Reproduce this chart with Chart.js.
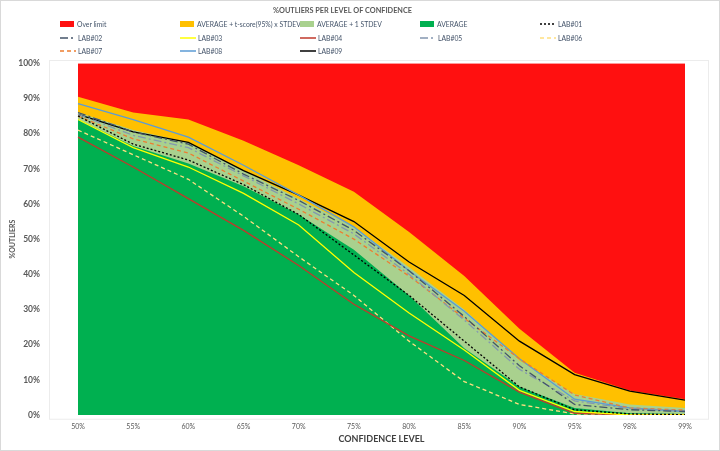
<!DOCTYPE html>
<html>
<head>
<meta charset="utf-8">
<script src="https://cdn.jsdelivr.net/npm/chart.js@4.4.0/dist/chart.umd.min.js"></script>
<style>
  html, body { margin: 0; padding: 0; background: #fff; }
  #wrap { position: relative; width: 720px; height: 451px; overflow: hidden; }
  #legend { position: absolute; left: 0; top: 0; font: 6.8px Lato, sans-serif; color: #44546a; }
  .item { position: absolute; display: flex; align-items: center; white-space: nowrap; height: 10px; }
  .item svg { margin-right: 2px; }
</style>
</head>
<body>
<div id="wrap">
  <canvas id="graph" width="720" height="451"></canvas>
  <div id="legend"></div>
</div>
<script>
const levels = ['50%', '55%', '60%', '65%', '70%', '75%', '80%', '85%', '90%', '95%', '98%', '99%'];

// bands (top edge of each coloured area, % outliers)
const overLimit = [100, 100, 100, 100, 100, 100, 100, 100, 100, 100, 100, 100];
const avgTscore = [90.5, 86, 84, 78, 71, 63.5, 52, 39.5, 24.5, 12, 7, 4.5];
const avgStdev  = [86, 81, 77.5, 69.5, 61.5, 53.5, 42, 30, 15.5, 6, 3, 2];
const average   = [84, 76.5, 71.5, 65, 57, 47, 34, 19, 8, 2, 0.5, 0.3];

// labs
const lab01 = [85, 77, 72.5, 65.5, 57, 45.5, 34, 21, 8, 1.5, 0.3, 0.1];
const lab02 = [86, 80.5, 77, 68.5, 61, 52.5, 41, 28, 14, 3, 1.5, 1];
const lab03 = [84, 76, 70.5, 63, 54, 40.5, 29, 18.5, 7, 1, 0, 0];
const lab04 = [79, 70.5, 61.5, 52.5, 42.5, 31.5, 22.5, 15.5, 6.5, 0.5, 0, 0];
const lab05 = [85.5, 79.5, 76, 68, 60, 51.5, 40, 27, 13, 4, 1.8, 1.2];
const lab06 = [81, 74, 67, 56.5, 45, 34, 21, 9.5, 3, 0.3, 0, 0];
const lab07 = [85, 78.5, 74.5, 66.5, 58.5, 50, 39.5, 27.5, 16, 5.7, 2, 1.4];
const lab08 = [88.5, 84, 79, 71, 62.5, 53.5, 41, 29.5, 16, 4.5, 2, 1];
const lab09 = [85.5, 80.5, 77.5, 69.5, 62.5, 55, 43.5, 34, 21, 11.5, 6.8, 4.2];

function area(label, data, color, order) {
    return {
        label: label,
        data: data,
        backgroundColor: color,
        borderColor: color,
        borderWidth: 0,
        fill: 'origin',
        pointRadius: 0,
        tension: 0,
        order: order,
        isArea: true
    };
}

function lab(label, data, color, dash) {
    return {
        label: label,
        data: data,
        borderColor: color,
        backgroundColor: color,
        borderWidth: 1.3,
        borderDash: dash,
        fill: false,
        pointRadius: 0,
        tension: 0,
        order: 0
    };
}

const datasets = [
    area('Over limit', overLimit, '#ff1010', 4),
    area('AVERAGE + t-score(95%) x STDEV', avgTscore, '#ffc000', 3),
    area('AVERAGE + 1 STDEV', avgStdev, '#a9d18e', 2),
    area('AVERAGE', average, '#00b050', 1),
    lab('LAB#01', lab01, '#000000', [2, 2]),
    lab('LAB#02', lab02, '#44546a', [8, 3, 2, 3]),
    lab('LAB#03', lab03, '#ffff00', []),
    lab('LAB#04', lab04, '#c0392b', []),
    lab('LAB#05', lab05, '#8497b0', [8, 3, 2, 3]),
    lab('LAB#06', lab06, '#ffdf80', [4, 3]),
    lab('LAB#07', lab07, '#ed7d31', [4, 3]),
    lab('LAB#08', lab08, '#5b9bd5', []),
    lab('LAB#09', lab09, '#000000', [])
];

// light frames like the spreadsheet chart
const frame = {
    id: 'frame',
    beforeDraw(chart) {
        const ctx = chart.ctx;
        const a = chart.chartArea;
        ctx.save();
        ctx.lineWidth = 1;
        ctx.strokeStyle = '#d9d9d9';
        ctx.strokeRect(0.5, 0.5, chart.width - 1, chart.height - 1);
        ctx.strokeStyle = '#ececec';
        ctx.strokeRect(Math.round(a.left) - 28.5, Math.round(a.top) - 2.5, a.right - a.left + 52, a.bottom - a.top + 7);
        ctx.restore();
    }
};

function buildLegend(chart) {
    const box = document.getElementById('legend');
    box.innerHTML = '';
    chart.data.datasets.forEach((ds, i) => {
        const col = i % 5;
        const row = Math.floor(i / 5);
        const item = document.createElement('div');
        item.className = 'item';
        item.style.left = (60 + col * 120) + 'px';
        item.style.top = (19 + row * 13.5) + 'px';
        let mark;
        if (ds.isArea) {
            mark = '<svg width="15" height="8"><rect x="0" y="1" width="14" height="6" fill="' + ds.backgroundColor + '"/></svg>';
        } else {
            const dash = ds.borderDash.length ? ' stroke-dasharray="' + ds.borderDash.join(' ') + '"' : '';
            mark = '<svg width="16" height="8"><line x1="0" y1="4" x2="16" y2="4" stroke="' + ds.borderColor + '" stroke-width="1.5"' + dash + '/></svg>';
        }
        item.innerHTML = mark + '<span>' + ds.label + '</span>';
        box.appendChild(item);
    });
}

const tickColor = '#595959';

const chart = new Chart(document.getElementById('graph'), {
    type: 'line',
    data: { labels: levels, datasets: datasets },
    options: {
        responsive: false,
        animation: false,
        layout: { padding: { top: 0, right: 35, bottom: 0, left: 0 } },
        plugins: {
            legend: { display: false },
            tooltip: { enabled: false },
            title: {
                display: true,
                text: '%OUTLIERS PER LEVEL OF CONFIDENCE',
                color: tickColor,
                font: { family: 'Lato', size: 7.3, weight: 'bold' },
                padding: { top: 6, bottom: 48.5 }
            }
        },
        scales: {
            x: {
                offset: false,
                grid: { display: false, drawTicks: false },
                border: { display: false },
                ticks: { color: tickColor, font: { family: 'Lato', size: 7 }, padding: 8, maxRotation: 0, autoSkip: false },
                title: {
                    display: true,
                    text: 'CONFIDENCE LEVEL',
                    color: '#404040',
                    font: { family: 'Lato', size: 9, weight: 'bold' },
                    padding: { top: 0, bottom: 7 }
                },
                afterFit(scale) { scale.height = 36; }
            },
            y: {
                min: 0,
                max: 100,
                // tick marks hidden; tickLength only pushes the labels left
                grid: { display: false, drawTicks: true, tickLength: 34 },
                border: { display: false },
                ticks: {
                    stepSize: 10,
                    color: tickColor,
                    font: { family: 'Lato', size: 8.5, weight: 'bold' },
                    padding: 4,
                    callback: (v) => v + '%'
                },
                title: {
                    display: true,
                    text: '%OUTLIERS',
                    color: tickColor,
                    font: { family: 'Lato', size: 7, weight: 'bold' },
                    padding: { top: 9, bottom: 0 }
                },
                afterFit(scale) { scale.width = 78; }
            }
        }
    },
    plugins: [frame]
});

buildLegend(chart);
</script>
</body>
</html>
